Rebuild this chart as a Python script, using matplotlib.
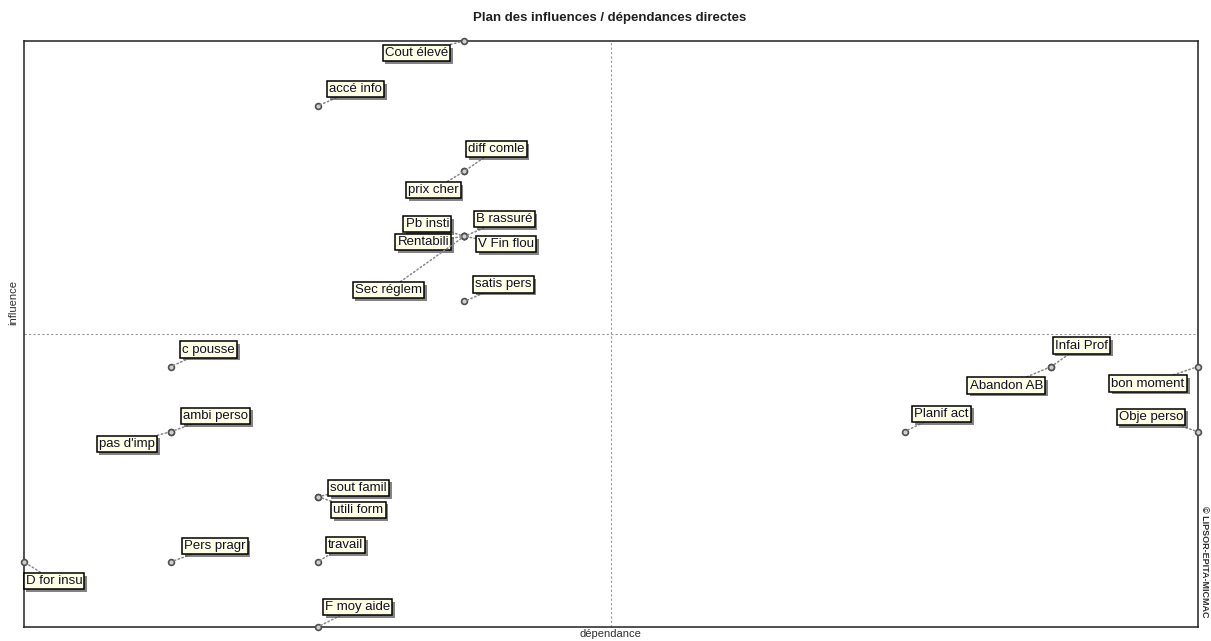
import matplotlib.pyplot as plt
import matplotlib.patheffects as pe

plt.rcParams['font.family'] = ['Liberation Sans', 'DejaVu Sans']

# variables of the MICMAC direct matrix
names = ["Cout élevé", "accé info", "diff comle", "prix cher", "Pb insti", "Rentabili",
         "B rassuré", "V Fin flou", "Sec réglem", "satis pers", "c pousse", "ambi perso",
         "pas d'imp", "sout famil", "utili form", "travail", "Pers pragr", "D for insu",
         "F moy aide", "Infai Prof", "Abandon AB", "Planif act", "bon moment", "Obje perso"]
dependance = [6, 5, 6, 6, 6, 6, 6, 6, 6, 6, 4, 4, 4, 5, 5, 5, 4, 3, 5, 10, 10, 9, 11, 11]
influence = [11, 10, 9, 9, 8, 8, 8, 8, 8, 7, 6, 5, 5, 4, 4, 3, 3, 3, 2, 6, 6, 5, 6, 5]

# label offsets from each point, in pixels
label_dx = [-48, 38, 32, -31, -37, -41, 40, 42, -76, 39, 38, 45, -44, 41, 41, 28, 44, 30, 40, 30, -45, 37, -50, -47]
label_dy = [-12, 17, 22, -19, 12, -6, 17, -8, -54, 17, 17, 16, -12, 9, -13, 17, 16, -19, 20, 21, -19, 18, -17, 15]

fig = plt.figure(figsize=(12.11, 6.41), dpi=100)
W, H = 1211, 641
ax = fig.add_axes([24 / W, (H - 627) / H, (1198 - 24) / W, (627 - 41) / H])

xmin, xmax = min(dependance), max(dependance)
ymin, ymax = min(influence), max(influence)
ax.set_xlim(xmin, xmax)
ax.set_ylim(ymin, ymax)
ax.set_xticks([])
ax.set_yticks([])
for s in ax.spines.values():
    s.set_linewidth(1.1)
    s.set_color('#202020')

# quadrant lines
ax.axvline((xmin + xmax) / 2, color='#999999', lw=0.8, ls=(0, (2, 2)), zorder=1)
ax.axhline((ymin + ymax) / 2, color='#999999', lw=0.8, ls=(0, (2, 2)), zorder=1)

ax.plot(dependance, influence, 'o', ms=4.2, mfc='#d0d0d0', mec='#505050', mew=1.2,
        clip_on=False, zorder=5)

for i, n in enumerate(names):
    t = ax.annotate(n, (dependance[i], influence[i]), xytext=(label_dx[i], label_dy[i]),
                    textcoords='offset pixels', ha='center', va='center',
                    fontsize=9.5, color='#101028', zorder=6, annotation_clip=False,
                    bbox=dict(boxstyle='square,pad=0.16', fc='#ffffe6', ec='black', lw=1.1),
                    arrowprops=dict(arrowstyle='-', ls=':', color='#888888', lw=1.1,
                                    shrinkA=0, shrinkB=2))
    t.get_bbox_patch().set_path_effects([
        pe.SimplePatchShadow(offset=(2, -2), shadow_rgbFace='#505050', alpha=0.7),
        pe.Normal()])

fig.text(610 / W, 1 - 18 / H, "Plan des influences / dépendances directes",
         ha='center', va='center', fontsize=9.5, fontweight='bold', color='#202020')
fig.text(610 / W, 1 - 634 / H, "dépendance", ha='center', va='center', fontsize=8, color='#303030')
fig.text(13 / W, 1 - 303 / H, "influence", ha='center', va='center', fontsize=8,
         rotation=90, color='#303030')
fig.text(1205 / W, 1 - 562 / H, "© LIPSOR-EPITA-MICMAC", ha='center', va='center',
         fontsize=6.5, fontweight='bold', rotation=-90, color='#303030')

fig.savefig('out.png', dpi=100)
